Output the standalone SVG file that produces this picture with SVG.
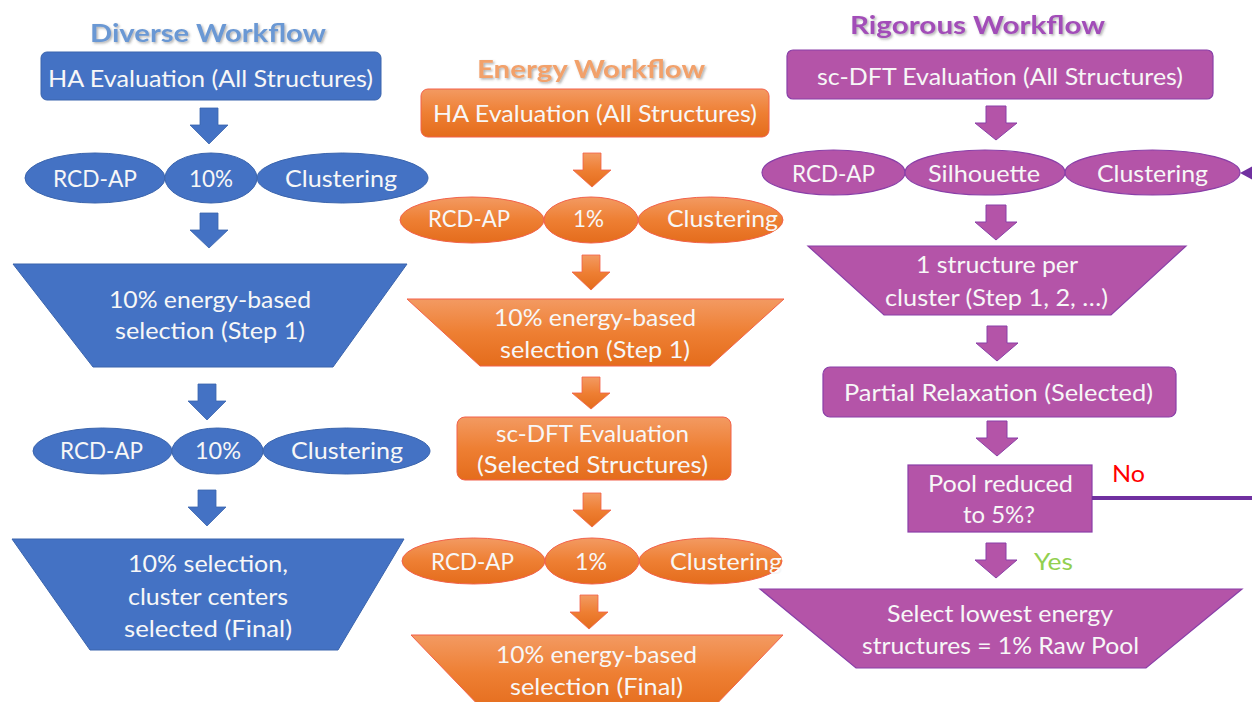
<svg xmlns="http://www.w3.org/2000/svg" width="1252" height="702" viewBox="0 0 1252 702">
  <defs>
    <linearGradient id="orangeFill" x1="0" y1="0" x2="0" y2="1">
      <stop offset="0" stop-color="#f39a62"/>
      <stop offset="0.5" stop-color="#ee7f33"/>
      <stop offset="1" stop-color="#e46c1c"/>
    </linearGradient>
    <filter id="titleShadow" x="-10%" y="-30%" width="120%" height="160%">
      <feDropShadow dx="1.5" dy="1.5" stdDeviation="1" flood-color="#555" flood-opacity="0.45"/>
    </filter>
  </defs>
  <style>
    text { font-family: Lato, "Open Sans", "Liberation Sans", sans-serif; }
    .t { font-size: 24px; fill: #f7f7f7; text-anchor: middle; }
    .title { font-size: 25px; font-weight: bold; text-anchor: middle; filter: url(#titleShadow); }
    .blue { fill: #4472c4; stroke: #3a64ad; stroke-width: 1; }
    .orange { fill: url(#orangeFill); stroke: #f2614a; stroke-width: 1; }
    .purple { fill: #b454a8; stroke: #8a3fa8; stroke-width: 1.2; }
    .link { fill: none; stroke: #7030a0; stroke-width: 4; }
  </style>

  <rect width="1252" height="702" fill="#ffffff"/>

  <!-- Column titles -->
  <g id="title-diverse"><text class="title" x="208" y="42" fill="#6a98d4" textLength="236" lengthAdjust="spacingAndGlyphs">Diverse Workflow</text></g>
  <g id="title-energy"><text class="title" x="591" y="78" fill="#f2a16b" textLength="228" lengthAdjust="spacingAndGlyphs">Energy Workflow</text></g>
  <g id="title-rigorous"><text class="title" x="977.5" y="34" fill="#a24db8" textLength="255" lengthAdjust="spacingAndGlyphs">Rigorous Workflow</text></g>

  <!-- Diverse workflow (blue) -->
  <g id="d-ha">
    <rect class="blue" x="41" y="52" width="340" height="48" rx="6"/>
    <text class="t" x="210.5" y="87" textLength="325" lengthAdjust="spacingAndGlyphs">HA Evaluation (All Structures)</text>
  </g>
  <g id="d-cluster1">
    <ellipse class="blue" cx="95" cy="178" rx="70" ry="25"/>
    <ellipse class="blue" cx="342.5" cy="178" rx="85.5" ry="25"/>
    <ellipse class="blue" cx="211" cy="178" rx="46" ry="25"/>
    <text class="t" x="95" y="187" textLength="84" lengthAdjust="spacingAndGlyphs">RCD-AP</text>
    <text class="t" x="211" y="187" textLength="44" lengthAdjust="spacingAndGlyphs">10%</text>
    <text class="t" x="341" y="187" textLength="112" lengthAdjust="spacingAndGlyphs">Clustering</text>
  </g>
  <g id="d-select1">
    <polygon class="blue" points="13,264 407,264 333,367 93,367"/>
    <text class="t" x="210" y="308" textLength="202" lengthAdjust="spacingAndGlyphs">10% energy-based</text>
    <text class="t" x="210" y="339" textLength="190" lengthAdjust="spacingAndGlyphs">selection (Step 1)</text>
  </g>
  <g id="d-cluster2">
    <ellipse class="blue" cx="102.5" cy="451" rx="69.5" ry="23"/>
    <ellipse class="blue" cx="346.5" cy="451" rx="83.5" ry="23"/>
    <ellipse class="blue" cx="217.5" cy="451" rx="45.5" ry="23"/>
    <text class="t" x="101.5" y="459" textLength="83" lengthAdjust="spacingAndGlyphs">RCD-AP</text>
    <text class="t" x="218" y="459" textLength="46" lengthAdjust="spacingAndGlyphs">10%</text>
    <text class="t" x="347" y="459" textLength="112" lengthAdjust="spacingAndGlyphs">Clustering</text>
  </g>
  <g id="d-final">
    <polygon class="blue" points="12,539 404,539 338,650 90,650"/>
    <text class="t" x="208" y="572" textLength="160" lengthAdjust="spacingAndGlyphs">10% selection,</text>
    <text class="t" x="208" y="605" textLength="160" lengthAdjust="spacingAndGlyphs">cluster centers</text>
    <text class="t" x="208" y="637" textLength="168" lengthAdjust="spacingAndGlyphs">selected (Final)</text>
  </g>

  <!-- Energy workflow (orange) -->
  <g id="e-ha">
    <rect class="orange" x="421" y="89" width="348" height="48" rx="7"/>
    <text class="t" x="595" y="122" textLength="324" lengthAdjust="spacingAndGlyphs">HA Evaluation (All Structures)</text>
  </g>
  <g id="e-cluster1">
    <ellipse class="orange" cx="472" cy="220" rx="72" ry="23"/>
    <ellipse class="orange" cx="710.5" cy="220" rx="72.5" ry="23"/>
    <ellipse class="orange" cx="591" cy="220" rx="47" ry="23"/>
    <text class="t" x="469" y="227" textLength="82" lengthAdjust="spacingAndGlyphs">RCD-AP</text>
    <text class="t" x="588.5" y="227" textLength="31" lengthAdjust="spacingAndGlyphs">1%</text>
    <text class="t" x="722.5" y="227" textLength="111" lengthAdjust="spacingAndGlyphs">Clustering</text>
  </g>
  <g id="e-select1">
    <polygon class="orange" points="407,299 784,299 710,366 480,366"/>
    <text class="t" x="595" y="326" textLength="202" lengthAdjust="spacingAndGlyphs">10% energy-based</text>
    <text class="t" x="595" y="358" textLength="190" lengthAdjust="spacingAndGlyphs">selection (Step 1)</text>
  </g>
  <g id="e-dft">
    <rect class="orange" x="457" y="417" width="274" height="63" rx="8"/>
    <text class="t" x="592.5" y="442" textLength="193" lengthAdjust="spacingAndGlyphs">sc-DFT Evaluation</text>
    <text class="t" x="592.5" y="473" textLength="231" lengthAdjust="spacingAndGlyphs">(Selected Structures)</text>
  </g>
  <g id="e-cluster2">
    <ellipse class="orange" cx="473.5" cy="561" rx="71.5" ry="23"/>
    <ellipse class="orange" cx="710.5" cy="561" rx="71.5" ry="23"/>
    <ellipse class="orange" cx="592" cy="561" rx="47" ry="23"/>
    <text class="t" x="472.5" y="570" textLength="83" lengthAdjust="spacingAndGlyphs">RCD-AP</text>
    <text class="t" x="591" y="570" textLength="32" lengthAdjust="spacingAndGlyphs">1%</text>
    <text class="t" x="726" y="570" textLength="112" lengthAdjust="spacingAndGlyphs">Clustering</text>
  </g>
  <g id="e-final">
    <polygon class="orange" points="411,635 783,635 709,712 485,712"/>
    <text class="t" x="596.5" y="663" textLength="201" lengthAdjust="spacingAndGlyphs">10% energy-based</text>
    <text class="t" x="596.5" y="695" textLength="173" lengthAdjust="spacingAndGlyphs">selection (Final)</text>
  </g>

  <!-- Rigorous workflow (purple) -->
  <g id="r-dft">
    <rect class="purple" x="787" y="50" width="426" height="49" rx="6"/>
    <text class="t" x="1000" y="85" textLength="366" lengthAdjust="spacingAndGlyphs">sc-DFT Evaluation (All Structures)</text>
  </g>
  <g id="r-cluster">
    <ellipse class="purple" cx="833.5" cy="172.5" rx="71.5" ry="22.5"/>
    <ellipse class="purple" cx="1152.5" cy="172.5" rx="87.5" ry="22.5"/>
    <ellipse class="purple" cx="985" cy="172.5" rx="80" ry="22.5"/>
    <text class="t" x="833.5" y="182" textLength="83" lengthAdjust="spacingAndGlyphs">RCD-AP</text>
    <text class="t" x="984" y="182" textLength="112" lengthAdjust="spacingAndGlyphs">Silhouette</text>
    <text class="t" x="1152.5" y="182" textLength="111" lengthAdjust="spacingAndGlyphs">Clustering</text>
  </g>
  <g id="r-select">
    <polygon class="purple" points="808,246 1186,246 1111,315 884,315"/>
    <text class="t" x="997" y="273" textLength="162" lengthAdjust="spacingAndGlyphs">1 structure per</text>
    <text class="t" x="996.5" y="306" textLength="223" lengthAdjust="spacingAndGlyphs">cluster (Step 1, 2, …)</text>
  </g>
  <g id="r-relax">
    <rect class="purple" x="823" y="367" width="353" height="50" rx="7"/>
    <text class="t" x="998.5" y="401" textLength="309" lengthAdjust="spacingAndGlyphs">Partial Relaxation (Selected)</text>
  </g>
  <g id="r-check">
    <rect class="purple" x="908" y="465" width="184" height="67"/>
    <text class="t" x="1000.5" y="492" textLength="145" lengthAdjust="spacingAndGlyphs">Pool reduced</text>
    <text class="t" x="999" y="523" textLength="72" lengthAdjust="spacingAndGlyphs">to 5%?</text>
  </g>
  <g id="r-final">
    <polygon class="purple" points="760,589 1242,589 1146,668 856,668"/>
    <text class="t" x="1000" y="622" textLength="226" lengthAdjust="spacingAndGlyphs">Select lowest energy</text>
    <text class="t" x="1000.5" y="654" textLength="277" lengthAdjust="spacingAndGlyphs">structures = 1% Raw Pool</text>
  </g>

  <!-- Connectors: block arrows and the loop-back line -->
  <g id="connectors">
    <g fill="#4472c4" stroke="#3a64ad" stroke-width="0.8">
      <path d="M200,108 H218 V125 H228 L209,144 L190,125 H200 Z"/>
      <path d="M200,213 H218 V230 H228 L209,248 L190,230 H200 Z"/>
      <path d="M198,384 H216 V401 H226 L207,420 L188,401 H198 Z"/>
      <path d="M198,490 H216 V507 H226 L207,526 L188,507 H198 Z"/>
    </g>
    <g fill="url(#orangeFill)" stroke="#f2614a" stroke-width="0.8">
      <path d="M583,153 H601 V170 H611 L592,187 L573,170 H583 Z"/>
      <path d="M582,255 H600 V272 H610 L591,290 L572,272 H582 Z"/>
      <path d="M582,377 H600 V393 H610 L591,409 L572,393 H582 Z"/>
      <path d="M583,493 H601 V510 H611 L592,527 L573,510 H583 Z"/>
      <path d="M580,595 H598 V612 H608 L589,629 L570,612 H580 Z"/>
    </g>
    <g fill="#b454a8" stroke="#8a3fa8" stroke-width="1">
      <path d="M986,106 H1006 V123 H1017 L996,140 L975,123 H986 Z"/>
      <path d="M986,205 H1006 V222 H1017 L996,240 L975,222 H986 Z"/>
      <path d="M987,326 H1007 V343 H1018 L997,361 L976,343 H987 Z"/>
      <path d="M987,421 H1007 V438 H1018 L997,456 L976,438 H987 Z"/>
      <path d="M986,543 H1006 V560 H1017 L996,578 L975,560 H986 Z"/>
    </g>
    <path class="link" d="M1092,498 H1264 V173 H1250"/>
    <polygon points="1240,173 1253,166 1253,180" fill="#7030a0"/>
    <text x="1112" y="482" font-size="24" fill="#ff0000" textLength="33" lengthAdjust="spacingAndGlyphs">No</text>
    <text x="1034" y="570" font-size="24" fill="#92d050" textLength="39" lengthAdjust="spacingAndGlyphs">Yes</text>
  </g>
</svg>
